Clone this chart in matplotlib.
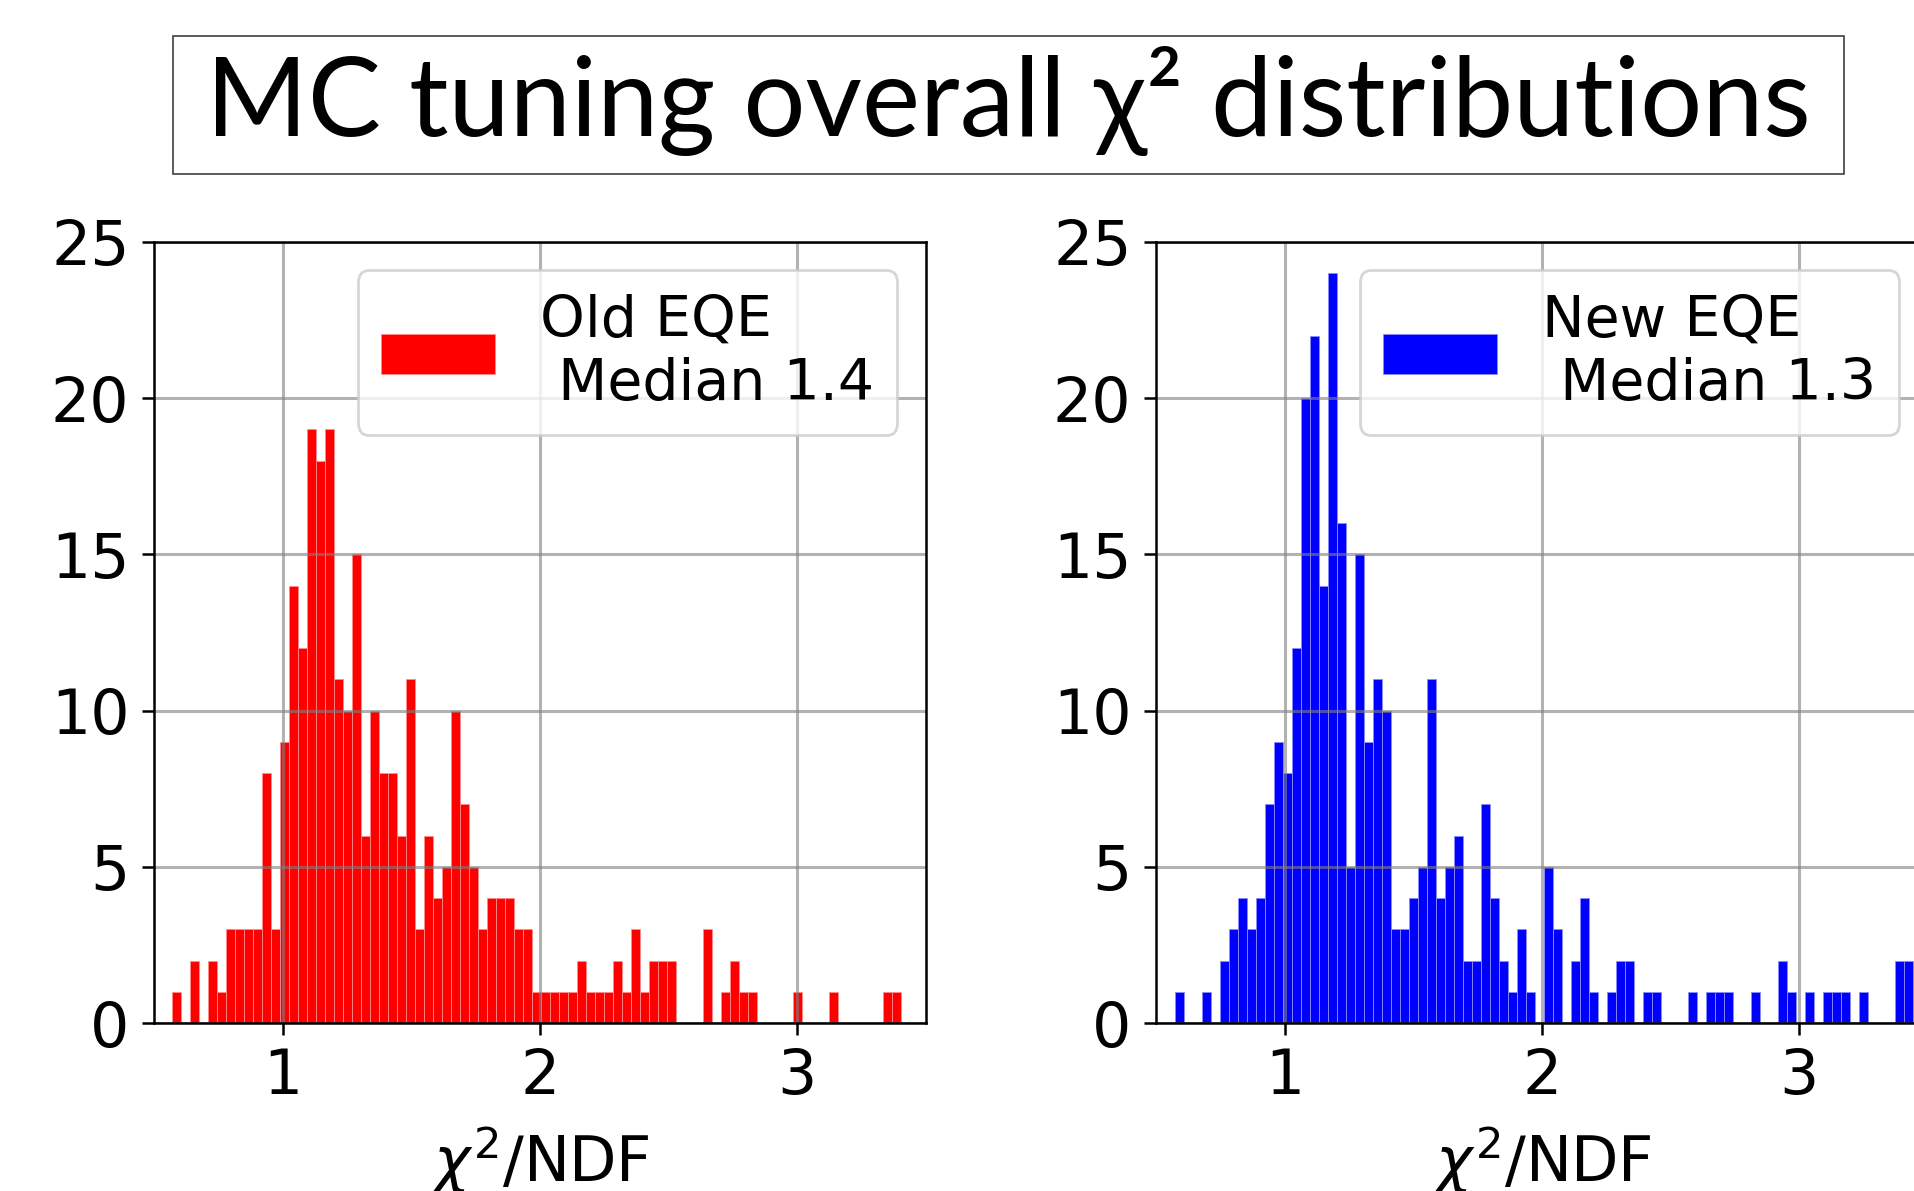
import matplotlib
matplotlib.use('Agg')
import matplotlib.pyplot as plt
from matplotlib.patches import Rectangle
import numpy as np

# bin contents (one value per bin, left to right)
binWidth = 0.03506
oldLo = 0.5675
oldCounts = [1, 0, 2, 0, 2, 1, 3, 3, 3, 3,
             8, 3, 9, 14, 12, 19, 18, 19, 11, 10,
             15, 6, 10, 8, 8, 6, 11, 3, 6, 4,
             5, 10, 7, 5, 3, 4, 4, 4, 3, 3,
             1, 1, 1, 1, 1, 2, 1, 1, 1, 2,
             1, 3, 1, 2, 2, 2, 0, 0, 0, 3,
             0, 1, 2, 1, 1, 0, 0, 0, 0, 1,
             0, 0, 0, 1, 0, 0, 0, 0, 0, 1,
             1]
newLo = 0.5715
newCounts = [1, 0, 0, 1, 0, 2, 3, 4, 3, 4,
             7, 9, 8, 12, 20, 22, 14, 24, 16, 5,
             15, 9, 11, 10, 3, 3, 4, 5, 11, 4,
             5, 6, 2, 2, 7, 4, 2, 1, 3, 1,
             0, 5, 3, 0, 2, 4, 1, 0, 1, 2,
             2, 0, 1, 1, 0, 0, 0, 1, 0, 1,
             1, 1, 0, 0, 1, 0, 0, 2, 1, 0,
             1, 0, 1, 1, 1, 0, 1, 0, 0, 0,
             2, 2]
oldLabel = 'Old EQE\n Median 1.4'
newLabel = 'New EQE\n Median 1.3'
title = 'MC tuning overall χ² distributions'

xMin, xMax = 0.497, 3.502
yMin, yMax = 0, 25
fsLeg = 41
fsTick = 44.5

W, H = 1915, 1191
fig = plt.figure(figsize=(W/100, H/100), dpi=100)

def draw(ax, lo, counts, col, seam, lab):
    edges = lo + binWidth*np.arange(len(counts)+1)
    ax.hist(edges[:-1], bins=edges, weights=counts, color=col,
            edgecolor=seam, linewidth=0.6, label=lab)
    ax.set_xlim((xMin, xMax))
    ax.set_ylim((yMin, yMax))
    ax.set_xticks([1, 2, 3])
    ax.set_yticks([0, 5, 10, 15, 20, 25])
    ax.grid(True, color='gray', alpha=0.6, linewidth=2.2)
    ax.tick_params(labelsize=fsTick, length=8.6, width=1.8, pad=9)
    for s in ax.spines.values():
        s.set_linewidth(1.8)
    ax.set_xlabel(r'$\chi^2$/NDF', fontsize=fsTick, labelpad=12)
    leg = ax.legend(loc='upper right', fontsize=fsLeg)
    leg.get_frame().set_linewidth(2)

axW, axH = 771.7/W, 781/H
ax1 = fig.add_axes([154/W, 1-1023/H, axW, axH])
draw(ax1, oldLo, oldCounts, 'red', (1, 0.55, 0.55), oldLabel)
ax2 = fig.add_axes([1156/W, 1-1023/H, axW, axH])
draw(ax2, newLo, newCounts, 'blue', (0.55, 0.55, 1), newLabel)

# slide title in a thin box
fig.patches.append(Rectangle((173.4/W, 1-174/H), (1844-173.4)/W, (174-35.7)/H,
                             transform=fig.transFigure, fill=False,
                             edgecolor='#404040', linewidth=1.2))
t = fig.text(1008/W, 1-136/H, title, ha='center', va='baseline',
             family=['Lato', 'DejaVu Sans'], fontsize=72)
fig.canvas.draw()
bb = t.get_window_extent()
t.set_fontsize(72*1605/bb.width)

fig.savefig('out.png', dpi=100)
